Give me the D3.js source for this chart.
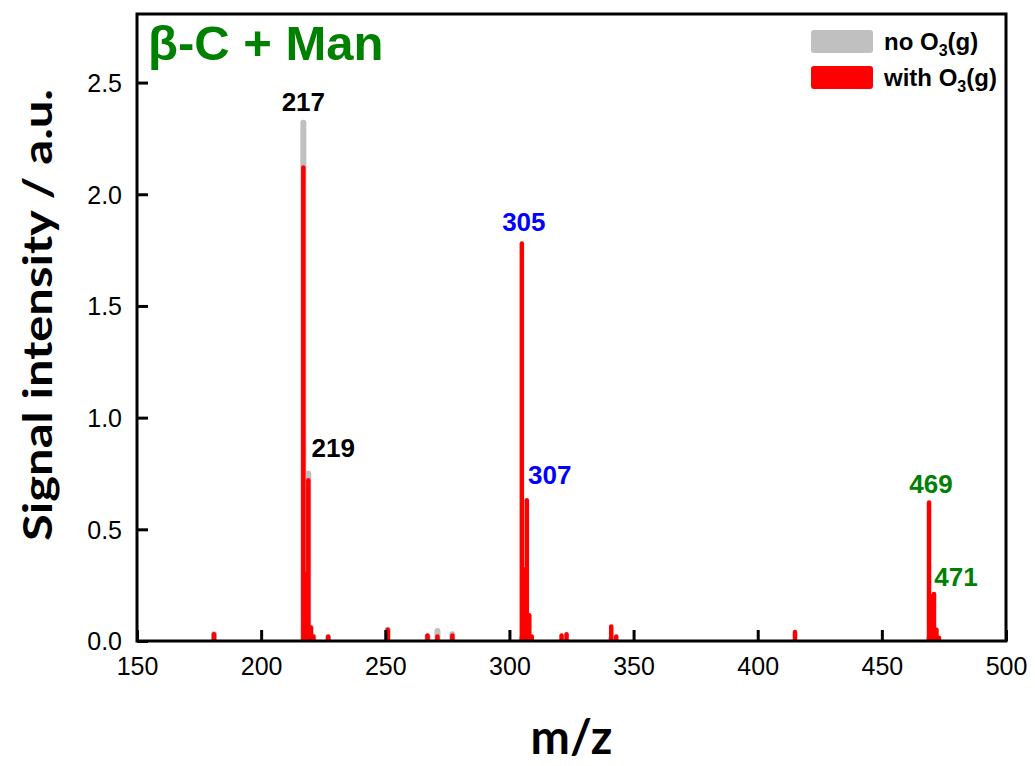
<!DOCTYPE html>
<html>
<head>
<meta charset="utf-8">
<script src="https://cdn.jsdelivr.net/npm/d3@7"></script>
<style>
  html, body { margin: 0; padding: 0; background: #fff; }
  svg { display: block; }
</style>
</head>
<body>
<svg id="chart" width="1035" height="766"></svg>
<script>
// ---- data ----
const mzNo   = [181, 217, 218, 219, 220, 221, 227, 251, 267, 271, 277, 305, 307, 341, 469];
const noO3   = [0.03, 2.32, 0.30, 0.75, 0.06, 0.02, 0.015, 0.05, 0.02, 0.045, 0.03, 0.01, 0.01, 0.01, 0.01];
const mzWith = [181, 217, 218, 219, 220, 221, 227, 251, 267, 271, 277, 305, 306, 307, 308, 309, 321, 323, 341, 343, 415, 469, 470, 471, 472, 473];
const withO3 = [0.03, 2.12, 0.30, 0.72, 0.06, 0.02, 0.02, 0.05, 0.025, 0.02, 0.025, 1.78, 0.32, 0.63, 0.115, 0.02, 0.025, 0.03, 0.065, 0.02, 0.04, 0.62, 0.20, 0.21, 0.05, 0.015];
const xTicks = [150, 200, 250, 300, 350, 400, 450, 500];
const yTicks = [0.0, 0.5, 1.0, 1.5, 2.0, 2.5];
const peakLabels = [
  {text: "217", mz: 217, v: 2.32, color: "#000000"},
  {text: "219", mz: 219, v: 0.75, color: "#000000"},
  {text: "305", mz: 305, v: 1.78, color: "#0000ff"},
  {text: "307", mz: 307, v: 0.63, color: "#0000ff"},
  {text: "469", mz: 469, v: 0.62, color: "#008000"},
  {text: "471", mz: 471, v: 0.21, color: "#008000"}
];

// ---- layout ----
const L = 137, R = 1006, T = 14, B = 641;
const svg = d3.select("#chart");
const x = d3.scaleLinear().domain([150, 500]).range([L, R]);
const y = d3.scaleLinear().domain([0, 2.807]).range([B, T]);

svg.append("defs").append("clipPath").attr("id", "clip")
  .append("rect").attr("x", L).attr("y", T).attr("width", R - L).attr("height", B - T);

const plot = svg.append("g").attr("clip-path", "url(#clip)");

const noData = mzNo.map((m, i) => ({m, v: noO3[i]}));
const withData = mzWith.map((m, i) => ({m, v: withO3[i]}));

plot.selectAll("line.no").data(noData).enter().append("line")
  .attr("class", "no")
  .attr("x1", d => x(d.m)).attr("x2", d => x(d.m))
  .attr("y1", y(0)).attr("y2", d => y(d.v))
  .attr("stroke", "#c0c0c0").attr("stroke-width", 6).attr("stroke-linecap", "round");

plot.selectAll("line.with").data(withData).enter().append("line")
  .attr("class", "with")
  .attr("x1", d => x(d.m)).attr("x2", d => x(d.m))
  .attr("y1", y(0)).attr("y2", d => y(d.v))
  .attr("stroke", "#ff0000").attr("stroke-width", 4.5).attr("stroke-linecap", "round");

// ---- axes (inward ticks) ----
const xAxis = d3.axisBottom(x).tickValues(xTicks).tickSize(-11).tickPadding(16).tickFormat(d3.format("d"));
const yAxis = d3.axisLeft(y).tickValues(yTicks).tickSize(-11).tickPadding(15).tickFormat(d3.format(".1f"));

const gx = svg.append("g").attr("transform", `translate(0,${B})`).call(xAxis);
const gy = svg.append("g").attr("transform", `translate(${L},0)`).call(yAxis);
[gx, gy].forEach(g => {
  g.select(".domain").remove();
  g.selectAll(".tick line").attr("stroke", "#000").attr("stroke-width", 3);
  g.selectAll(".tick text").attr("fill", "#000")
    .style("font-family", "'Liberation Sans', Arial, sans-serif").style("font-size", "25px");
});
gy.selectAll(".tick text").attr("dy", "0.35em");

// frame
svg.append("rect").attr("x", L).attr("y", T).attr("width", R - L).attr("height", B - T)
  .attr("fill", "none").attr("stroke", "#000").attr("stroke-width", 3);

// ---- axis titles ----
svg.append("text")
  .attr("x", x(325)).attr("y", 754)
  .attr("text-anchor", "middle")
  .style("font-family", "Lato, 'Open Sans', sans-serif").style("font-weight", "bold").style("font-size", "47px")
  .text("m/z");

svg.append("text")
  .attr("transform", `translate(52,${(88 + 542) / 2}) rotate(-90)`)
  .attr("text-anchor", "middle")
  .attr("textLength", 452).attr("lengthAdjust", "spacingAndGlyphs")
  .style("font-family", "Lato, 'Open Sans', sans-serif").style("font-weight", "bold").style("font-size", "40px")
  .text("Signal intensity / a.u.");

// ---- chart title ----
svg.append("text")
  .attr("x", 148).attr("y", 60)
  .attr("fill", "#008000")
  .style("font-family", "'Liberation Sans', Arial, sans-serif").style("font-weight", "bold").style("font-size", "49px")
  .text("β-C + Man");

// ---- peak labels ----
const lblOffset = {"217": [0, -12], "219": [25, -16], "305": [2, -12], "307": [23, -16], "469": [2, -10], "471": [22, -8]};
svg.selectAll("text.peak").data(peakLabels).enter().append("text")
  .attr("class", "peak")
  .attr("x", d => x(d.mz) + lblOffset[d.text][0])
  .attr("y", d => y(d.v) + lblOffset[d.text][1])
  .attr("text-anchor", "middle")
  .attr("fill", d => d.color)
  .style("font-family", "'Liberation Sans', Arial, sans-serif").style("font-weight", "bold").style("font-size", "26px")
  .text(d => d.text);

// ---- legend ----
const legend = svg.append("g");
const legItems = [
  {label: "no O", color: "#c0c0c0", y: 30},
  {label: "with O", color: "#ff0000", y: 66}
];
legItems.forEach(it => {
  legend.append("rect").attr("x", 811).attr("y", it.y).attr("width", 62).attr("height", 23)
    .attr("rx", 3).attr("fill", it.color);
  const t = legend.append("text").attr("x", 884).attr("y", it.y + 20)
    .style("font-family", "'Liberation Sans', Arial, sans-serif").style("font-weight", "bold").style("font-size", "24px")
    .attr("fill", "#000");
  t.append("tspan").text(it.label);
  t.append("tspan").attr("dy", 6).style("font-size", "16px").text("3");
  t.append("tspan").attr("dy", -6).text("(g)");
});
</script>
</body>
</html>
